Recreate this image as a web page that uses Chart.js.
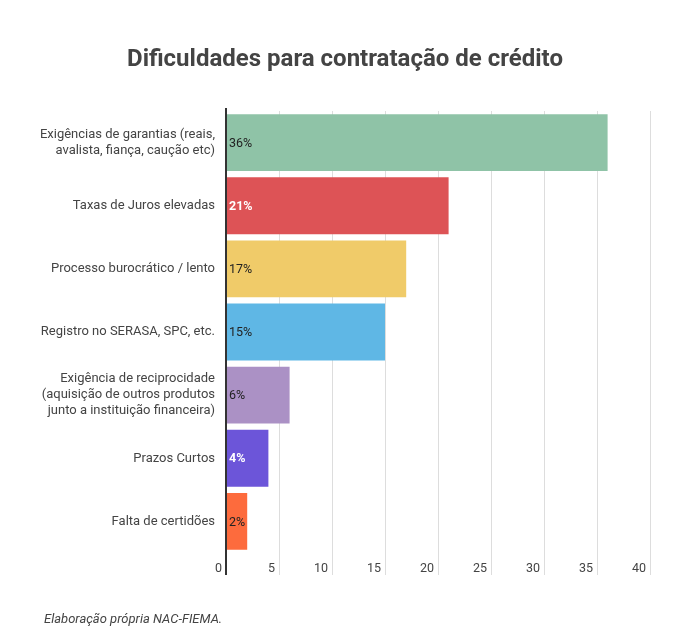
<!DOCTYPE html>
<html>
<head>
<meta charset="utf-8">
<script src="https://cdn.jsdelivr.net/npm/chart.js@4/dist/chart.umd.min.js"></script>
<style>
  html, body { margin: 0; padding: 0; background: #fff; }
  #wrap { width: 692px; height: 636px; position: relative; }
</style>
</head>
<body>
<div id="wrap"><canvas id="c" width="692" height="636"></canvas></div>
<script>
const categories = [
  ["Exigências de garantias (reais,", "avalista, fiança, caução etc)"],
  "Taxas de Juros elevadas",
  "Processo burocrático / lento",
  "Registro no SERASA, SPC, etc.",
  ["Exigência de reciprocidade", "(aquisição de outros produtos", "junto a instituição financeira)"],
  "Prazos Curtos",
  "Falta de certidões"
];
const values = [36, 21, 17, 15, 6, 4, 2];
const valueLabels = ["36%", "21%", "17%", "15%", "6%", "4%", "2%"];
const barColors = ["#8fc3a7", "#dd5356", "#f0cb69", "#5fb7e5", "#ab91c5", "#6c55d9", "#fd6b3d"];
const labelColors = ["#222222", "#ffffff", "#222222", "#222222", "#222222", "#ffffff", "#222222"];
const labelBold = [false, true, false, false, false, true, false];
const xTicks = [0, 5, 10, 15, 20, 25, 30, 35, 40];
const titleText = "Dificuldades para contratação de crédito";
const footerText = "Elaboração própria NAC-FIEMA.";

const FONT = "Roboto, 'Noto Sans', sans-serif";

const textPlugin = {
  id: 'texts',
  afterDatasetsDraw(chart) {
    const ctx = chart.ctx;
    const meta = chart.getDatasetMeta(0);
    const xs = chart.scales.x;
    ctx.save();
    const x0 = xs.getPixelForValue(0);
    ctx.strokeStyle = '#333333';
    ctx.lineWidth = 2;
    ctx.beginPath();
    ctx.moveTo(x0, 108);
    ctx.lineTo(x0, 575);
    ctx.stroke();
    ctx.textBaseline = 'middle';
    ctx.textAlign = 'left';
    meta.data.forEach((bar, i) => {
      ctx.font = (labelBold[i] ? 'bold ' : '') + '12.5px ' + FONT;
      ctx.fillStyle = labelColors[i];
      ctx.fillText(valueLabels[i], x0 + 3, bar.y + 1);
    });
    ctx.restore();
  },
  afterDraw(chart) {
    const ctx = chart.ctx;
    ctx.save();
    ctx.fillStyle = '#444444';
    ctx.font = 'bold 24px ' + FONT;
    ctx.textAlign = 'center';
    ctx.textBaseline = 'middle';
    ctx.fillText(titleText, 345, 60);
    ctx.font = 'italic 13px ' + FONT;
    ctx.textAlign = 'left';
    ctx.fillStyle = '#444444';
    ctx.fillText(footerText, 44, 620);
    ctx.restore();
  }
};

new Chart(document.getElementById('c'), {
  type: 'bar',
  data: {
    labels: categories,
    datasets: [{
      data: values,
      backgroundColor: barColors,
      borderWidth: 0,
      categoryPercentage: 1,
      barPercentage: 0.9
    }]
  },
  options: {
    indexAxis: 'y',
    responsive: false,
    animation: false,
    devicePixelRatio: 1,
    layout: { padding: { top: 111, left: 0, right: 42, bottom: 636 - 553 - 30 } },
    plugins: {
      legend: { display: false },
      title: { display: false },
      tooltip: { enabled: false }
    },
    scales: {
      x: {
        min: 0,
        max: 40,
        afterBuildTicks(scale) { scale.ticks = xTicks.map(v => ({ value: v })); },
        afterFit(scale) { scale.height = 30; },
        grid: {
          color: (c) => (c.tick && c.tick.value === 0) ? 'rgba(0,0,0,0)' : '#dddddd',
          lineWidth: 1,
          tickLength: 22,
          drawTicks: true
        },
        border: { display: false },
        ticks: {
          align: 'end',
          labelOffset: -4,
          padding: -14,
          color: '#444444',
          font: { family: FONT, size: 12.5 }
        }
      },
      y: {
        afterFit(scale) { scale.width = 226; },
        grid: { display: false, drawTicks: false },
        border: { display: false },
        ticks: {
          padding: 11,
          color: '#444444',
          font: { family: FONT, size: 13, lineHeight: 1.23 }
        }
      }
    }
  },
  plugins: [textPlugin]
});
</script>
</body>
</html>
